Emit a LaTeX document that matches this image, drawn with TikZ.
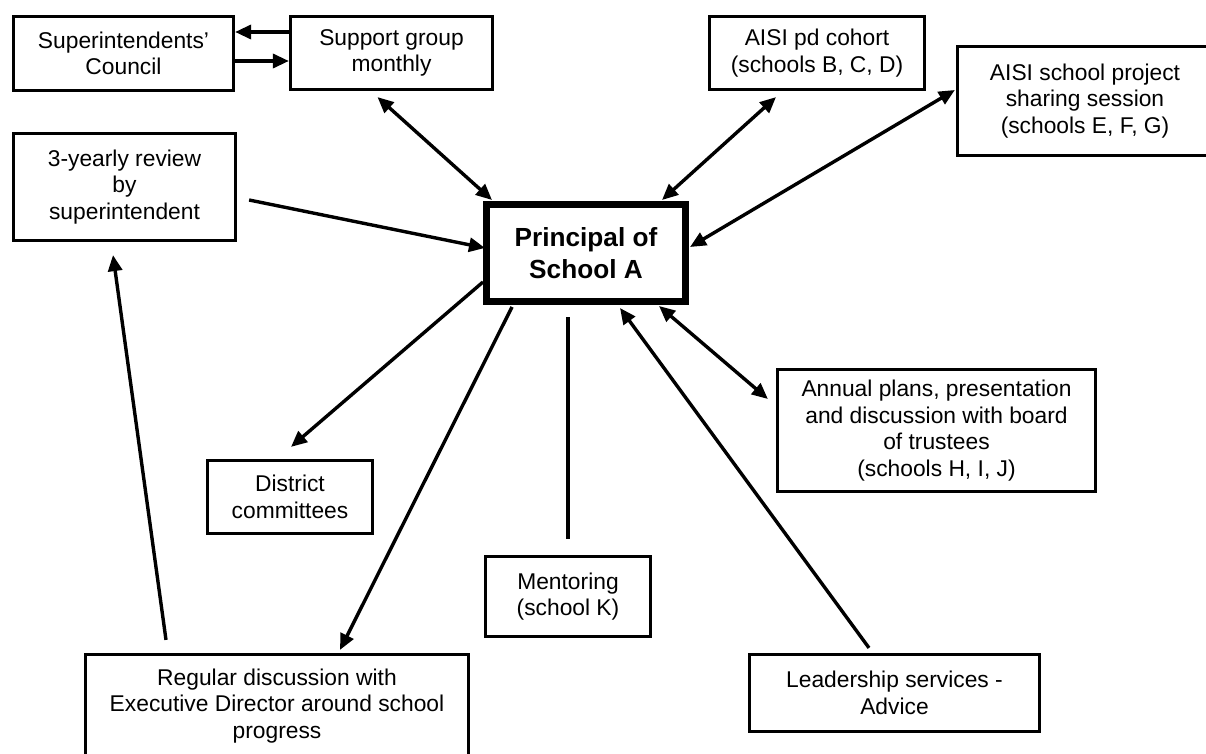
\documentclass[tikz,border=0pt]{standalone}
\usepackage{fontspec}
\setmainfont{Liberation Sans}
\usetikzlibrary{arrows.meta,calc}
\begin{document}
\begin{tikzpicture}[x=0.5pt,y=-0.5pt,
  box/.style={draw, line width=1.6pt, inner sep=0pt, align=center,
    font=\fontsize{11.4}{13.2}\selectfont},
  mainbox/.style={draw, line width=3.5pt, inner sep=0pt, align=center,
    font=\fontsize{13.1}{16}\selectfont\bfseries},
  conn/.style={line width=1.7pt},
  arr/.style={conn, -{Triangle[length=8pt,width=7pt]}},
  darr/.style={conn, {Triangle[length=8pt,width=7pt]}-{Triangle[length=8pt,width=7pt]}}]
\fill[white] (0,0) rectangle (1206,754);
\useasboundingbox (0,0) rectangle (1206,754);
\clip (0,0) rectangle (1206,754);

\node[box, minimum width=110pt, minimum height=37pt] (council) at (123.5,53.5) {Superintendents'\\Council};
\node[box, minimum width=101pt, minimum height=36.5pt] (support) at (391.5,53) {Support group\\monthly};
\node[box, minimum width=107.5pt, minimum height=36.5pt] (pd) at (817,53) {AISI pd cohort\\(schools B, C, D)};
\node[box, minimum width=127.5pt, minimum height=54.5pt] (school) at (1085,101) {AISI school project\\sharing session\\(schools E, F, G)};
\node[box, minimum width=111pt, minimum height=53.5pt] (review) at (124.5,187) {3-yearly review\\by\\superintendent};
\node[mainbox, minimum width=99.5pt, minimum height=48.5pt] (principal) at (586,253) {Principal of\\School A};
\node[box, minimum width=159pt, minimum height=61pt] (annual) at (936.5,430.5) {Annual plans, presentation\\and discussion with board\\of trustees\\(schools H, I, J)};
\node[box, minimum width=82.5pt, minimum height=36.5pt] (district) at (290,497) {District\\committees};
\node[box, minimum width=82.5pt, minimum height=40pt] (mentoring) at (568,596.5) {Mentoring\\(school K)};
\node[box, minimum width=191.5pt, minimum height=51.5pt] (regular) at (277,706) {Regular discussion with\\Executive Director around school\\progress};
\node[box, minimum width=145pt, minimum height=38.5pt] (leader) at (894.5,693) {Leadership services -\\Advice};

% council <-> support
\coordinate (s1) at ($(support.west)+(0,-21)$);
\draw[arr] (s1) -- (s1 -| council.east);
\coordinate (c1) at ($(council.east)+(0,7.5)$);
\draw[arr] (c1) -- (c1 -| support.west);

% support <-> principal
\draw[darr] ($(support.south)+(-14,6)$) -- ($(principal.north west)+(9,-1)$);
% pd <-> principal
\draw[darr] ($(pd.south)+(-41,6)$) -- ($(principal.north east)+(-27,-1)$);
% school <-> principal
\draw[darr] ($(school.west)+(-1,-11)$) -- ($(principal.east)+(1,-6)$);
% review -> principal
\draw[arr] ($(review.east)+(12,13)$) -- ($(principal.west)+(2,-5)$);
% principal -> district
\draw[arr] ($(principal.south west)+(0,-23)$) -- ($(district.north)+(1,-12)$);
% principal -> regular
\draw[arr] ($(principal.south west)+(29,2)$) -- ($(regular.north)+(63,-3)$);
% mentoring line
\draw[conn] ($(mentoring.north)+(0,-16)$) -- ($(principal.south -| mentoring.north)+(0,12)$);
% leadership -> principal
\draw[arr] ($(leader.north)+(-25.5,-5)$) -- ($(principal.south)+(34,3)$);
% principal <-> annual
\draw[darr] ($(principal.south east)+(-30,1)$) -- ($(annual.west)+(-8,-31.5)$);
% regular -> review
\draw[arr] ($(regular.north)+(-111,-13)$) -- ($(review.south)+(-11.5,13)$);
\end{tikzpicture}
\end{document}
